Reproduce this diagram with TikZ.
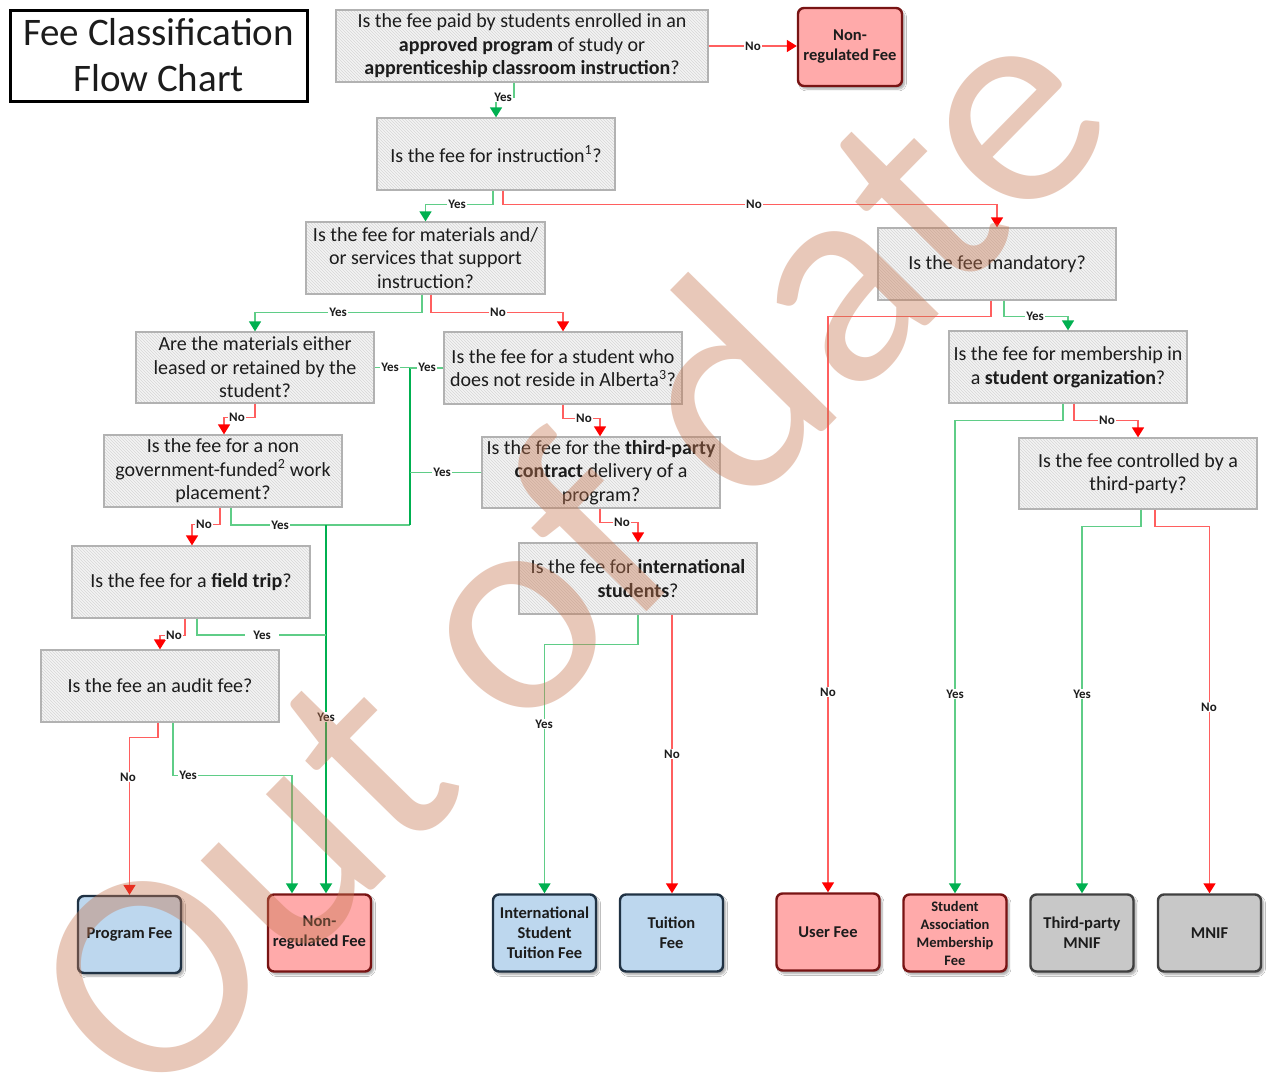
\documentclass[tikz,border=0pt]{standalone}
\usepackage{fontspec}
\setmainfont{Carlito}
\usetikzlibrary{arrows.meta,patterns,shadows.blur}
\definecolor{qborder}{RGB}{178,178,178}
\definecolor{qfill}{RGB}{244,244,244}
\definecolor{qhatch}{RGB}{214,214,214}
\definecolor{glin}{RGB}{95,205,135}
\definecolor{gdark}{RGB}{0,176,80}
\definecolor{rlin}{RGB}{255,95,95}
\definecolor{rdark}{RGB}{255,0,0}
\definecolor{bfill}{RGB}{189,215,238}
\definecolor{bbord}{RGB}{32,50,68}
\definecolor{rfill}{RGB}{255,170,170}
\definecolor{rbord}{RGB}{120,20,20}
\definecolor{gfill}{RGB}{200,200,200}
\definecolor{gbord}{RGB}{64,64,64}
\definecolor{wm}{RGB}{198,118,80}
\definecolor{txt}{RGB}{28,28,28}
\tikzset{
 qbox/.style={draw=qborder, line width=1.3pt, preaction={fill=qfill}, pattern=north west lines, pattern color=qhatch, minimum width=238pt, minimum height=72pt, align=center, inner sep=2pt, font=\fontsize{20}{23.5}\selectfont, text=txt},
 term/.style={rounded corners=6pt, line width=2.4pt, minimum width=103pt, minimum height=77pt, align=center, inner sep=1pt, font=\fontsize{16.5}{20}\selectfont\bfseries, text=txt, blur shadow={shadow xshift=2.5pt, shadow yshift=-3pt, shadow blur steps=6, shadow opacity=35}},
 tblue/.style={term, draw=bbord, fill=bfill},
 tred/.style={term, draw=rbord, fill=rfill},
 tgray/.style={term, draw=gbord, fill=gfill},
 gline/.style={draw=glin, line width=1.6pt},
 gmain/.style={draw=gdark, line width=2.2pt},
 rline/.style={draw=rlin, line width=1.6pt},
 garr/.style={-{Triangle[width=12pt,length=10pt,color=gdark]}},
 rarr/.style={-{Triangle[width=12pt,length=10pt,color=rdark]}},
 lbl/.style={fill=white, inner sep=0.8pt, font=\fontsize{13}{13}\selectfont\bfseries, text=txt},
}
\begin{document}
\begin{tikzpicture}[x=1pt,y=-1pt]
\useasboundingbox (0,0) rectangle (1269,1076);
\fill[white] (0,0) rectangle (1269,1076);

% title
\node[draw=black, line width=3pt, minimum width=297pt, minimum height=91pt, align=center, inner sep=0pt, font=\fontsize{39}{46}\selectfont, text=txt] (title) at (158.5,55.5) {Fee Classification\\Flow Chart};

% questions
\node[qbox, minimum width=372pt] (q1) at (522,46) {Is the fee paid by students enrolled in an\\\textbf{approved program} of study or\\\textbf{apprenticeship classroom instruction}?};
\node[qbox] (q2) at (496,154) {Is the fee for instruction\textsuperscript{1}?};
\node[qbox, minimum width=239pt] (q3) at (425.5,258) {Is the fee for materials and/\\or services that support\\instruction?};
\node[qbox] (q4) at (997,264) {Is the fee mandatory?};
\node[qbox, minimum height=71pt] (q5) at (255,367.5) {Are the materials either\\leased or retained by the\\student?};
\node[qbox] (q6) at (563,368) {Is the fee for a student who\\does not reside in Alberta\textsuperscript{3}?};
\node[qbox] (q7) at (223,471) {Is the fee for a non\\government-funded\textsuperscript{2} work\\placement?};
\node[qbox, minimum height=71pt] (q8) at (601,472.5) {Is the fee for the \textbf{third-party}\\\textbf{contract} delivery of a\\program?};
\node[qbox] (q9) at (191,582) {Is the fee for a \textbf{field trip}?};
\node[qbox] (q10) at (160,686) {Is the fee an audit fee?};
\node[qbox, minimum height=71pt] (q11) at (638,578.5) {Is the fee for \textbf{international}\\\textbf{students}?};
\node[qbox] (q12) at (1068,367) {Is the fee for membership in\\a \textbf{student organization}?};
\node[qbox, minimum height=71pt] (q13) at (1138,473.5) {Is the fee controlled by a\\third-party?};

% terminals
\node[tred, minimum width=104pt, minimum height=78pt] (nr1) at (850,47) {Non-\\regulated Fee};
\node[tblue] (prog) at (129.5,934.5) {Program Fee};
\node[tred] (nr2) at (319.5,933) {Non-\\regulated Fee};
\node[tblue] (ist) at (544.5,933) {International\\Student\\Tuition Fee};
\node[tblue] (tui) at (671.5,933) {Tuition\\Fee};
\node[tred] (user) at (828,932) {User Fee};
\node[tred, font=\fontsize{14.5}{18}\selectfont\bfseries] (samf) at (955,933) {Student\\Association\\Membership\\Fee};
\node[tgray] (tpm) at (1082,933) {Third-party\\MNIF};
\node[tgray] (mnif) at (1209.5,933) {MNIF};

% junction coordinates
\coordinate (jy) at (410,525);
\coordinate (jm) at (326,525);
\coordinate (j9) at (326,635);

% connectors
\draw[rline,rarr] (q1.east) -- (q1.east -| nr1.west);
\draw[gline,garr] ([xshift=-8pt]q1.south) -- ++(0,15) -| (q2.north);
\draw[gline,garr] ([xshift=-3pt]q2.south) -- ++(0,14) -| (q3.north);
\draw[rline,rarr] ([xshift=7pt]q2.south) -- ++(0,14) -| (q4.north);
\draw[gline,garr] ([xshift=-3.5pt]q3.south) -- ++(0,18) -| (q5.north);
\draw[rline,rarr] ([xshift=5.5pt]q3.south) -- ++(0,18) -| (q6.north);
\draw[rline,rarr] (q5.south) -- ++(0,14) -| ([xshift=1pt]q7.north);
\draw[rline,rarr] ([xshift=-3pt]q7.south) -- ++(0,17) -| ([xshift=1pt]q9.north);
\draw[gline] ([xshift=8pt]q7.south) |- (jy);
\draw[gmain] (q5.east -| jy) -- (jy);
\draw[gline] (q5.east) -- (q5.east -| jy);
\draw[gline] (q6.west) -- (q6.west -| jy);
\draw[gline] (q8.west) -- (q8.west -| jy);
\draw[gmain,garr] (jm) -- ([xshift=6.5pt]nr2.north);
\draw[gline] ([xshift=6pt]q9.south) |- (j9);
\draw[rline,rarr] ([xshift=-6pt]q9.south) -- ++(0,17) -| (q10.north);
\draw[rline,rarr] ([xshift=-2pt]q10.south) -- ++(0,15) -| (prog.north);
\draw[gline,garr] ([xshift=13pt]q10.south) -- ++(0,53) -| ([xshift=-27.5pt]nr2.north);
\draw[rline,rarr] (q6.south) -- ++(0,14) -| ([xshift=-1pt]q8.north);
\draw[rline,rarr] ([xshift=-1pt]q8.south) -- ++(0,14) -| (q11.north);
\draw[gline,garr] (q11.south) -- ++(0,30) -| (ist.north);
\draw[rline,rarr] ([xshift=34pt]q11.south) -- ([xshift=34pt]q11.south |- tui.north);
\draw[rline,rarr] ([xshift=-6pt]q4.south) -- ++(0,16) -| (user.north);
\draw[gline,garr] ([xshift=7pt]q4.south) -- ++(0,16) -| (q12.north);
\draw[gline,garr] ([xshift=-5pt]q12.south) -- ++(0,17) -| (samf.north);
\draw[rline,rarr] ([xshift=6pt]q12.south) -- ++(0,17) -| (q13.north);
\draw[gline,garr] ([xshift=3pt]q13.south) -- ++(0,17) -| (tpm.north);
\draw[rline,rarr] ([xshift=17pt]q13.south) -- ++(0,17) -| (mnif.north);

% labels
\node[lbl] (l1) at (753,46) {No};
\node[lbl] (l2) at (503,97) {Yes};
\node[lbl] (l3) at (457,204) {Yes};
\node[lbl] (l4) at (754,204) {No};
\node[lbl] (l5) at (338,312) {Yes};
\node[lbl] (l6) at (498,312) {No};
\node[lbl] (l7) at (390,367) {Yes};
\node[lbl] (l8) at (427,367) {Yes};
\node[lbl] (l9) at (237,417) {No};
\node[lbl] (l10) at (584,418) {No};
\node[lbl] (l11) at (442,472) {Yes};
\node[lbl] (l12) at (204,524) {No};
\node[lbl] (l13) at (280,525) {Yes};
\node[lbl] (l14) at (622,522) {No};
\node[lbl] (l15) at (174,635) {No};
\node[lbl, inner xsep=8pt] (l16) at (262,635) {Yes};
\node[lbl] (l17) at (326,717) {Yes};
\node[lbl] (l18) at (544,724) {Yes};
\node[lbl] (l19) at (672,754) {No};
\node[lbl] (l20) at (128,777) {No};
\node[lbl] (l21) at (188,775) {Yes};
\node[lbl] (l22) at (828,692) {No};
\node[lbl] (l23) at (955,694) {Yes};
\node[lbl] (l24) at (1082,694) {Yes};
\node[lbl] (l25) at (1209,707) {No};
\node[lbl] (l26) at (1035,316) {Yes};
\node[lbl] (l27) at (1107,420) {No};

% watermark
\node[rotate=45.5, text=wm, text opacity=0.4, inner sep=0pt, font=\fontsize{300}{300}\selectfont] (wmark) at (564,549) {Out of date};
\end{tikzpicture}
\end{document}
